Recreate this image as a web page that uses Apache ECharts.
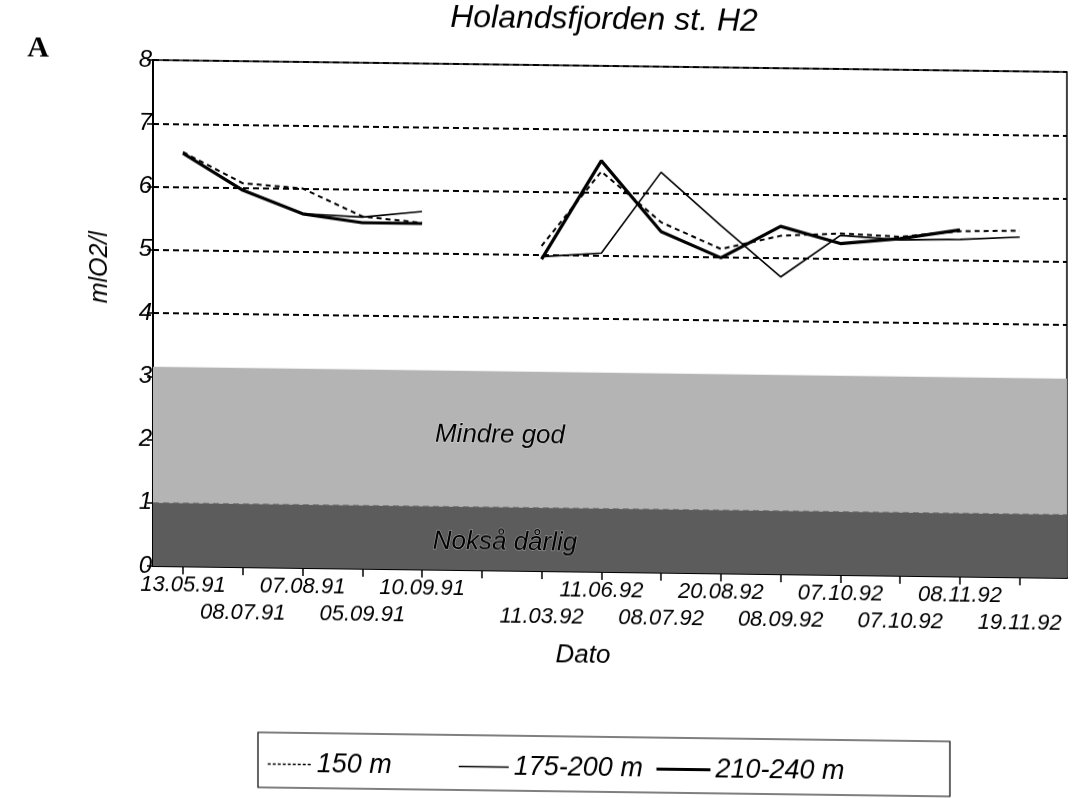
<!DOCTYPE html>
<html>
<head>
<meta charset="utf-8">
<script src="https://cdn.jsdelivr.net/npm/echarts@6/dist/echarts.min.js"></script>
<style>
  html, body { margin: 0; padding: 0; background: #ffffff; overflow: hidden; }
  #chart { width: 1086px; height: 798px; transform: skewY(0.75deg); transform-origin: 153px 0; }
</style>
</head>
<body>
<div id="chart"></div>
<script>
// ---- data ----
const xLabels = ['13.05.91','08.07.91','07.08.91','05.09.91','10.09.91','','11.03.92','11.06.92','08.07.92','20.08.92','08.09.92','07.10.92','07.10.92','08.11.92','19.11.92'];
const yTicks = [0, 1, 2, 3, 4, 5, 6, 7, 8];
const seriesNames = ['150 m', '175-200 m', '210-240 m'];
const s150 = [6.55, 6.07, 6.00, 5.57, 5.48, null, 5.14, 6.33, 5.54, 5.13, 5.35, 5.40, 5.36, 5.46, 5.48];
const s175 = [6.53, 5.97, 5.60, 5.56, 5.66, null, 4.97, 5.04, 6.33, 5.50, 4.70, 5.37, 5.31, 5.33, 5.38];
const s210 = [6.53, 5.96, 5.60, 5.47, 5.47, null, 4.93, 6.50, 5.39, 4.99, 5.50, 5.24, 5.33, 5.48, null];
const bandMindre = [1, 3.15];
const bandNokså = [0, 1];
const bandLabels = ['Mindre god', 'Nokså dårlig'];

// ---- chart ----
const FONT = 'Liberation Sans';
const chart = echarts.init(document.getElementById('chart'), null, { renderer: 'canvas' });

const idx = xLabels.map((_, i) => i);
// alternate label rows among non-empty labels
const row1 = [], row2 = [];
let cnt = 0;
xLabels.forEach((l, i) => { if (l) { (cnt % 2 === 0 ? row1 : row2).push(i); cnt++; } });

function toData(arr) { return arr.map((v, i) => [i, v]); }

const legendText = { fontFamily: FONT, fontStyle: 'italic', fontSize: 27, color: '#000' };
const legendItem = { color: 'rgba(0,0,0,0)', borderWidth: 0 };
const xLabelStyle = { fontFamily: FONT, fontStyle: 'italic', fontSize: 22, color: '#000' };
const XMIN = -0.502, XMAX = 14.79;

const option = {
  backgroundColor: '#ffffff',
  animation: false,
  grid: { left: 153, right: 19, top: 60, bottom: 232, show: true, borderColor: '#000', borderWidth: 1.5, backgroundColor: 'transparent' },
  xAxis: [
    {
      type: 'value', min: XMIN, max: XMAX, position: 'bottom',
      axisLine: { show: true, onZero: false, lineStyle: { color: '#000', width: 2 } },
      axisTick: { show: true, customValues: idx, length: 8, inside: false, lineStyle: { color: '#000', width: 1.5 } },
      axisLabel: Object.assign({ show: true, customValues: row1, margin: 8, showMinLabel: true, showMaxLabel: true, hideOverlap: false,
        formatter: v => xLabels[Math.round(v)] || '' }, xLabelStyle),
      splitLine: { show: false }
    },
    {
      type: 'value', min: XMIN, max: XMAX, position: 'bottom',
      axisLine: { show: false, onZero: false },
      axisTick: { show: false },
      axisLabel: Object.assign({ show: true, customValues: row2, margin: 35, showMinLabel: true, showMaxLabel: true, hideOverlap: false,
        formatter: v => xLabels[Math.round(v)] || '' }, xLabelStyle),
      splitLine: { show: false }
    }
  ],
  yAxis: {
    type: 'value', min: 0, max: 8, interval: 1,
    axisLine: { show: true, onZero: false, lineStyle: { color: '#000', width: 2 } },
    axisTick: { show: true, length: 6, lineStyle: { color: '#000', width: 1.5 } },
    axisLabel: { fontFamily: FONT, fontStyle: 'italic', fontSize: 24, color: '#000', margin: 1,
      formatter: v => yTicks.includes(v) ? String(v) : '' },
    splitLine: { show: true, lineStyle: { color: '#000', width: 2, type: [6, 4] } }
  },
  graphic: [
    { type: 'text', x: 604, y: 14, style: { text: 'Holandsfjorden st. H2', fontFamily: FONT, fontStyle: 'italic', fontSize: 32, fill: '#000', align: 'center', verticalAlign: 'middle' } },
    { type: 'text', x: 38, y: 50, style: { text: 'A', fontFamily: 'Liberation Serif', fontWeight: 'bold', fontSize: 30, fill: '#000', align: 'center', verticalAlign: 'middle' } },
    { type: 'text', x: 100, y: 268, rotation: Math.PI / 2, style: { text: 'mlO2/l', fontFamily: FONT, fontStyle: 'italic', fontSize: 25, fill: '#000', align: 'center', verticalAlign: 'middle' } },
    { type: 'text', x: 583, y: 650, style: { text: 'Dato', fontFamily: FONT, fontStyle: 'italic', fontSize: 26, fill: '#000', align: 'center', verticalAlign: 'middle' } },
    { type: 'rect', shape: { x: 258, y: 731, width: 692, height: 55 }, style: { fill: 'none', stroke: '#000', lineWidth: 1.2 } }
  ],
  legend: [
    { data: [seriesNames[0]], left: 262, top: 744, itemWidth: 44, itemHeight: 14, itemGap: 10, itemStyle: legendItem, textStyle: legendText,
      lineStyle: { width: 1.5, type: [3, 2] } },
    { data: [seriesNames[1]], left: 453, top: 744, itemWidth: 50, itemHeight: 14, itemStyle: legendItem, textStyle: legendText,
      lineStyle: { width: 1.6 } },
    { data: [seriesNames[2]], left: 650, top: 744, itemWidth: 54, itemHeight: 14, itemStyle: legendItem, textStyle: legendText,
      lineStyle: { width: 3 } }
  ],
  series: [
    {
      name: 'bands', type: 'line', data: [], silent: true,
      markArea: {
        silent: true,
        data: [
          [{ yAxis: bandMindre[0], itemStyle: { color: '#b4b4b4' }, label: { show: true, formatter: bandLabels[0], position: 'inside', offset: [-110, -4], fontFamily: FONT, fontStyle: 'italic', fontSize: 26, color: '#000', textBorderColor: '#dddddd', textBorderWidth: 1 } }, { yAxis: bandMindre[1] }],
          [{ yAxis: bandNokså[0], itemStyle: { color: '#5c5c5c' }, label: { show: true, formatter: bandLabels[1], position: 'inside', offset: [-105, 3], fontFamily: FONT, fontStyle: 'italic', fontSize: 26, color: '#000', textBorderColor: '#aaaaaa', textBorderWidth: 1 } }, { yAxis: bandNokså[1] }]
        ]
      }
    },
    { name: seriesNames[0], type: 'line', data: toData(s150), symbol: 'none', connectNulls: false,
      lineStyle: { color: '#000', width: 2, type: [5, 4] }, itemStyle: { color: '#000' }, z: 3 },
    { name: seriesNames[1], type: 'line', data: toData(s175), symbol: 'none', connectNulls: false,
      lineStyle: { color: '#000', width: 1.6 }, itemStyle: { color: '#000' }, z: 4 },
    { name: seriesNames[2], type: 'line', data: toData(s210), symbol: 'none', connectNulls: false,
      lineStyle: { color: '#000', width: 3.2 }, itemStyle: { color: '#000' }, z: 5 }
  ]
};
chart.setOption(option);
</script>
</body>
</html>
